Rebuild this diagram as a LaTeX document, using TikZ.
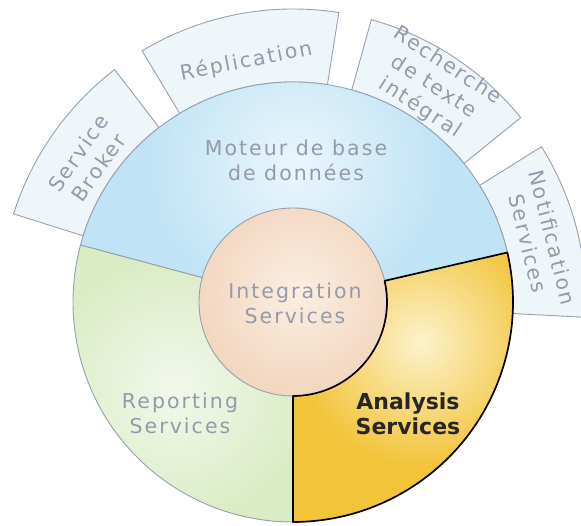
\documentclass[tikz,border=0pt]{standalone}
\usepackage{fontspec}
\setmainfont{DejaVu Sans}
\newfontfamily\lblfont[LetterSpace=10]{DejaVu Sans}
\usetikzlibrary{calc}
\definecolor{lblgray}{RGB}{148,154,170}
\definecolor{edgegray}{RGB}{150,160,176}
\definecolor{tabfill}{RGB}{239,246,250}
\definecolor{blueOut}{RGB}{192,227,245}
\definecolor{blueIn}{RGB}{234,246,252}
\definecolor{greenOut}{RGB}{218,236,196}
\definecolor{greenIn}{RGB}{242,248,236}
\definecolor{yelOut}{RGB}{242,196,58}
\definecolor{yelIn}{RGB}{252,242,204}
\definecolor{peachOut}{RGB}{243,215,192}
\definecolor{peachIn}{RGB}{251,238,226}
\definecolor{darktext}{RGB}{40,38,36}
\tikzset{
  tabsector/.style={fill=tabfill, draw=edgegray, line width=0.9pt},
  thinedge/.style={draw=edgegray, line width=0.9pt},
  lbl/.style={font=\lblfont\fontsize{20.5}{25}\selectfont, text=lblgray, align=center, inner sep=0pt},
  boldlbl/.style={font=\bfseries\fontsize{22}{25}\selectfont, text=darktext, align=center, inner sep=0pt}
}
\begin{document}
\begin{tikzpicture}[x=1pt,y=1pt]
\useasboundingbox (0,0) rectangle (581,526);
\clip (0,0) rectangle (581,526);
\coordinate (C) at (293,224);
\begin{scope}[shift={(C)}]
  % outer tabs
  \foreach \a/\b in {127.5/162.5, 81/121, 39/74.5, -3/32}{
    \path[tabsector] (\a:293) arc[start angle=\a, end angle=\b, radius=293]
      -- (\b:220) arc[start angle=\b, end angle=\a, radius=220] -- cycle;
  }
  % blue sector
  \begin{scope}
    \clip (0,0) -- (13:220) arc[start angle=13, end angle=165, radius=220] -- cycle;
    \fill[blueOut] (-230,-10) rectangle (230,230);
    \shade[inner color=blueIn, outer color=blueOut] (2,137) circle[radius=150];
  \end{scope}
  \path[thinedge] (0,0) -- (13:220) arc[start angle=13, end angle=165, radius=220] -- cycle;
  % green sector
  \begin{scope}
    \clip (0,0) -- (165:220) arc[start angle=165, end angle=270, radius=220] -- cycle;
    \fill[greenOut] (-230,-230) rectangle (10,70);
    \shade[inner color=greenIn, outer color=greenOut] (-118,-88) circle[radius=135];
  \end{scope}
  \path[thinedge] (0,0) -- (165:220) arc[start angle=165, end angle=270, radius=220] -- cycle;
  % inner circle
  \begin{scope}
    \clip (0,0) circle[radius=94];
    \fill[peachOut] (-100,-100) rectangle (100,100);
    \shade[inner color=peachIn, outer color=peachOut] (5,10) circle[radius=100];
  \end{scope}
  \path[thinedge] (0,0) circle[radius=94];
  % yellow sector
  \begin{scope}
    \clip (-90:94) -- (-90:220) arc[start angle=-90, end angle=13, radius=220]
      -- (13:94) arc[start angle=13, end angle=-90, radius=94] -- cycle;
    \fill[yelOut] (-10,-230) rectangle (230,60);
    \shade[inner color=yelIn, outer color=yelOut] (128,-40) circle[radius=125];
  \end{scope}
  \draw[black, line width=1.7pt, line join=round] (-90:94) -- (-90:220)
    arc[start angle=-90, end angle=13, radius=220]
    -- (13:94) arc[start angle=13, end angle=-90, radius=94] -- cycle;
  % tab labels
  \node[lbl, rotate=55] (broker) at (145.3:249) {Service\\Broker};
  \node[lbl, rotate=11] (replication) at (101:245) {Réplication};
  \node[lbl, rotate=-33] (recherche) at (56.8:257) {Recherche\\de texte\\intégral};
  \node[lbl, rotate=-76] (notification) at (14:255) {Notification\\Services};
\end{scope}
% main labels
\node[lbl] (moteur) at (296,366) {Moteur de base\\de données};
\node[lbl] (integration) at (295,223) {Integration\\Services};
\node[lbl] (reporting) at (180,113) {Reporting\\Services};
\node[boldlbl] (analysis) at (408,112) {Analysis\\Services};
\end{tikzpicture}
\end{document}
